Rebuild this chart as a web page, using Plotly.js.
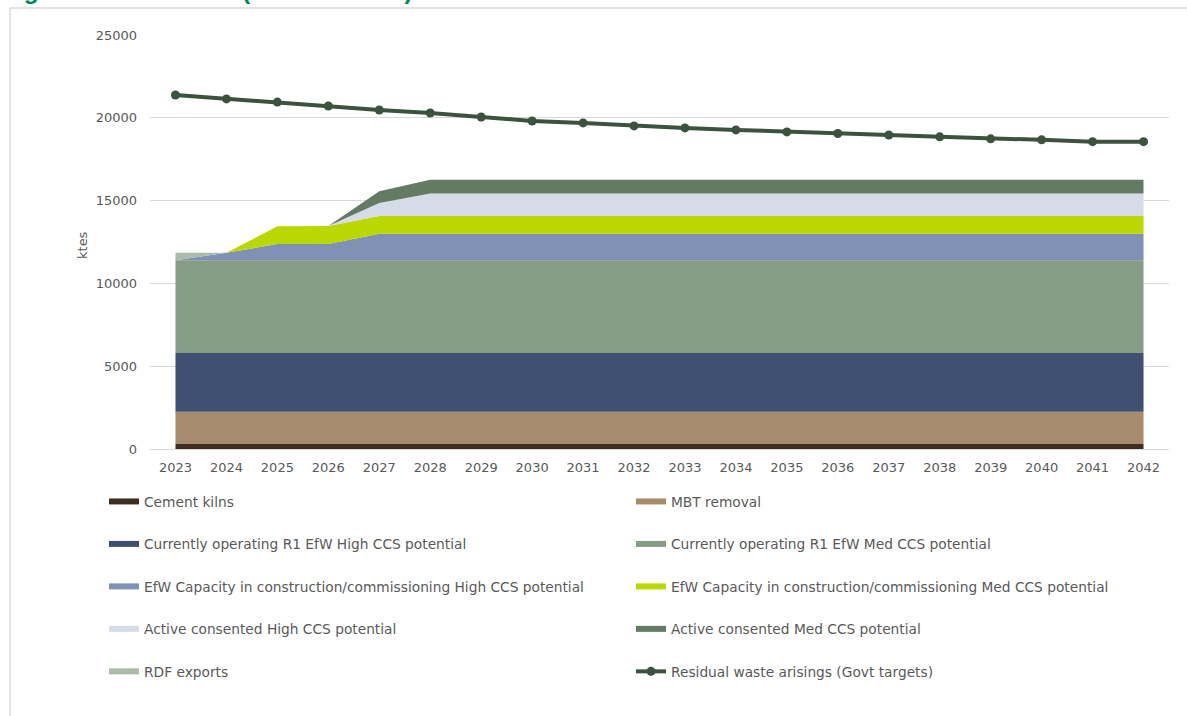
<!DOCTYPE html>
<html>
<head>
<meta charset="utf-8">
<script src="https://cdn.plot.ly/plotly-3.0.1.min.js"></script>
<style>
html,body{margin:0;padding:0;background:#fff;overflow:hidden;}
#chart{width:1187px;height:716px;}
</style>
</head>
<body>
<div id="chart"></div>
<script>
// ---- data (ktes) ----
const years = ['2023','2024','2025','2026','2027','2028','2029','2030','2031','2032','2033','2034','2035','2036','2037','2038','2039','2040','2041','2042'];
const cementKilns   = [300,300,300,300,300,300,300,300,300,300,300,300,300,300,300,300,300,300,300,300];
const mbtRemoval    = [1950,1950,1950,1950,1950,1950,1950,1950,1950,1950,1950,1950,1950,1950,1950,1950,1950,1950,1950,1950];
const curHighCCS    = [3550,3550,3550,3550,3550,3550,3550,3550,3550,3550,3550,3550,3550,3550,3550,3550,3550,3550,3550,3550];
const curMedCCS     = [5600,5600,5600,5600,5600,5600,5600,5600,5600,5600,5600,5600,5600,5600,5600,5600,5600,5600,5600,5600];
const efwHighCCS    = [0,450,980,980,1600,1600,1600,1600,1600,1600,1600,1600,1600,1600,1600,1600,1600,1600,1600,1600];
const efwMedCCS     = [0,0,1070,1080,1070,1070,1070,1070,1070,1070,1070,1070,1070,1070,1070,1070,1070,1070,1070,1070];
const actHighCCS    = [0,0,0,0,790,1360,1360,1360,1360,1360,1360,1360,1360,1360,1360,1360,1360,1360,1360,1360];
const actMedCCS     = [0,0,0,0,700,830,830,830,830,830,830,830,830,830,830,830,830,830,830,830];
const rdfExports    = [450,0,0,0,0,0,0,0,0,0,0,0,0,0,0,0,0,0,0,0];
const residualWaste = [21380,21140,20950,20710,20470,20290,20050,19810,19690,19510,19390,19270,19150,19050,18960,18850,18730,18670,18560,18560];

const yTickValues = [0,5000,10000,15000,20000,25000];
const yTickLabels = ['0','5000','10000','15000','20000','25000'];

const seriesNames = {
  cement: 'Cement kilns',
  mbt: 'MBT removal',
  curHigh: 'Currently operating R1 EfW High CCS potential',
  curMed: 'Currently operating R1 EfW Med CCS potential',
  efwHigh: 'EfW Capacity in construction/commissioning High CCS potential',
  efwMed: 'EfW Capacity in construction/commissioning Med CCS potential',
  actHigh: 'Active consented High CCS potential',
  actMed: 'Active consented Med CCS potential',
  rdf: 'RDF exports',
  resid: 'Residual waste arisings (Govt targets)'
};

function area(name, y, color, leg) {
  return {
    type: 'scatter', x: years, y: y, name: name,
    stackgroup: 'one', mode: 'none', fillcolor: color,
    line: {width: 0}, legend: leg, legendgroup: name,
    hoverinfo: 'skip'
  };
}

const traces = [
  area(seriesNames.cement, cementKilns, '#3d2e21', 'legend'),
  area(seriesNames.mbt, mbtRemoval, '#a88b6d', 'legend2'),
  area(seriesNames.curHigh, curHighCCS, '#3f5071', 'legend'),
  area(seriesNames.curMed, curMedCCS, '#869c84', 'legend2'),
  area(seriesNames.efwHigh, efwHighCCS, '#7f91b4', 'legend'),
  area(seriesNames.efwMed, efwMedCCS, '#bad800', 'legend2'),
  area(seriesNames.actHigh, actHighCCS, '#d5dce7', 'legend'),
  area(seriesNames.actMed, actMedCCS, '#627b62', 'legend2'),
  area(seriesNames.rdf, rdfExports, '#aabca8', 'legend'),
  {
    type: 'scatter', x: years, y: residualWaste, name: seriesNames.resid,
    mode: 'lines+markers', line: {color: '#3b523c', width: 4},
    marker: {color: '#3b523c', size: 9}, legend: 'legend2',
    legendgroup: seriesNames.resid, hoverinfo: 'skip'
  }
];

const textColor = '#595959';
const fontFam = 'DejaVu Sans, Verdana, sans-serif';

const legendCommon = {
  orientation: 'v', traceorder: 'grouped', tracegroupgap: 21.6,
  font: {family: fontFam, size: 13.75, color: textColor},
  bgcolor: 'rgba(0,0,0,0)', xref: 'container', yref: 'container',
  xanchor: 'left', yanchor: 'top', itemclick: false, itemdoubleclick: false
};

const layout = {
  width: 1187, height: 716,
  margin: {l: 150, r: 18, t: 35, b: 267, autoexpand: false},
  paper_bgcolor: '#ffffff', plot_bgcolor: '#ffffff',
  showlegend: true,
  font: {family: fontFam, size: 13, color: textColor},
  xaxis: {
    type: 'category', range: [-0.5, 19.5], tickangle: 0, automargin: false,
    showgrid: false, zeroline: false, showline: false,
    ticks: '', ticklabelstandoff: 9,
    tickfont: {family: fontFam, size: 13, color: textColor},
    fixedrange: true
  },
  yaxis: {
    range: [0, 25000], tickvals: yTickValues, ticktext: yTickLabels, automargin: false,
    showgrid: true, gridcolor: '#d9d9d9', gridwidth: 1,
    zeroline: true, zerolinecolor: '#d9d9d9', zerolinewidth: 1,
    showline: false, ticks: '', ticklabelstandoff: 12,
    tickfont: {family: fontFam, size: 13, color: textColor},
    fixedrange: true
  },
  legend: Object.assign({}, legendCommon, {x: 104/1187, y: 1 - 486/716}),
  legend2: Object.assign({}, legendCommon, {x: 631/1187, y: 1 - 486/716}),
  annotations: [
    {
      text: '<b>Figure 2: Scenario 2 (national level)</b>',
      xref: 'paper', yref: 'paper', x: -0.1472, y: 1.0692,
      xanchor: 'left', yanchor: 'bottom', showarrow: false,
      font: {family: 'Liberation Sans, Arial, sans-serif', size: 24.4, color: '#00845c'}
    },
    {
      text: 'ktes', textangle: -90,
      xref: 'paper', yref: 'paper', x: (82 - 150) / 1019, y: (449 - 245) / 414,
      xanchor: 'center', yanchor: 'middle', showarrow: false,
      font: {family: fontFam, size: 13, color: textColor}
    }
  ],
  shapes: [
    {type: 'line', xref: 'paper', yref: 'paper', x0: -0.1374, x1: -0.1374, y0: 1.0652, y1: -0.65, line: {color: '#d9d9d9', width: 1.5}},
    {type: 'line', xref: 'paper', yref: 'paper', x0: -0.1374, x1: 1.03, y0: 1.0652, y1: 1.0652, line: {color: '#d9d9d9', width: 1.5}}
  ]
};

Plotly.newPlot('chart', traces, layout, {displayModeBar: false, staticPlot: true});
</script>
</body>
</html>
